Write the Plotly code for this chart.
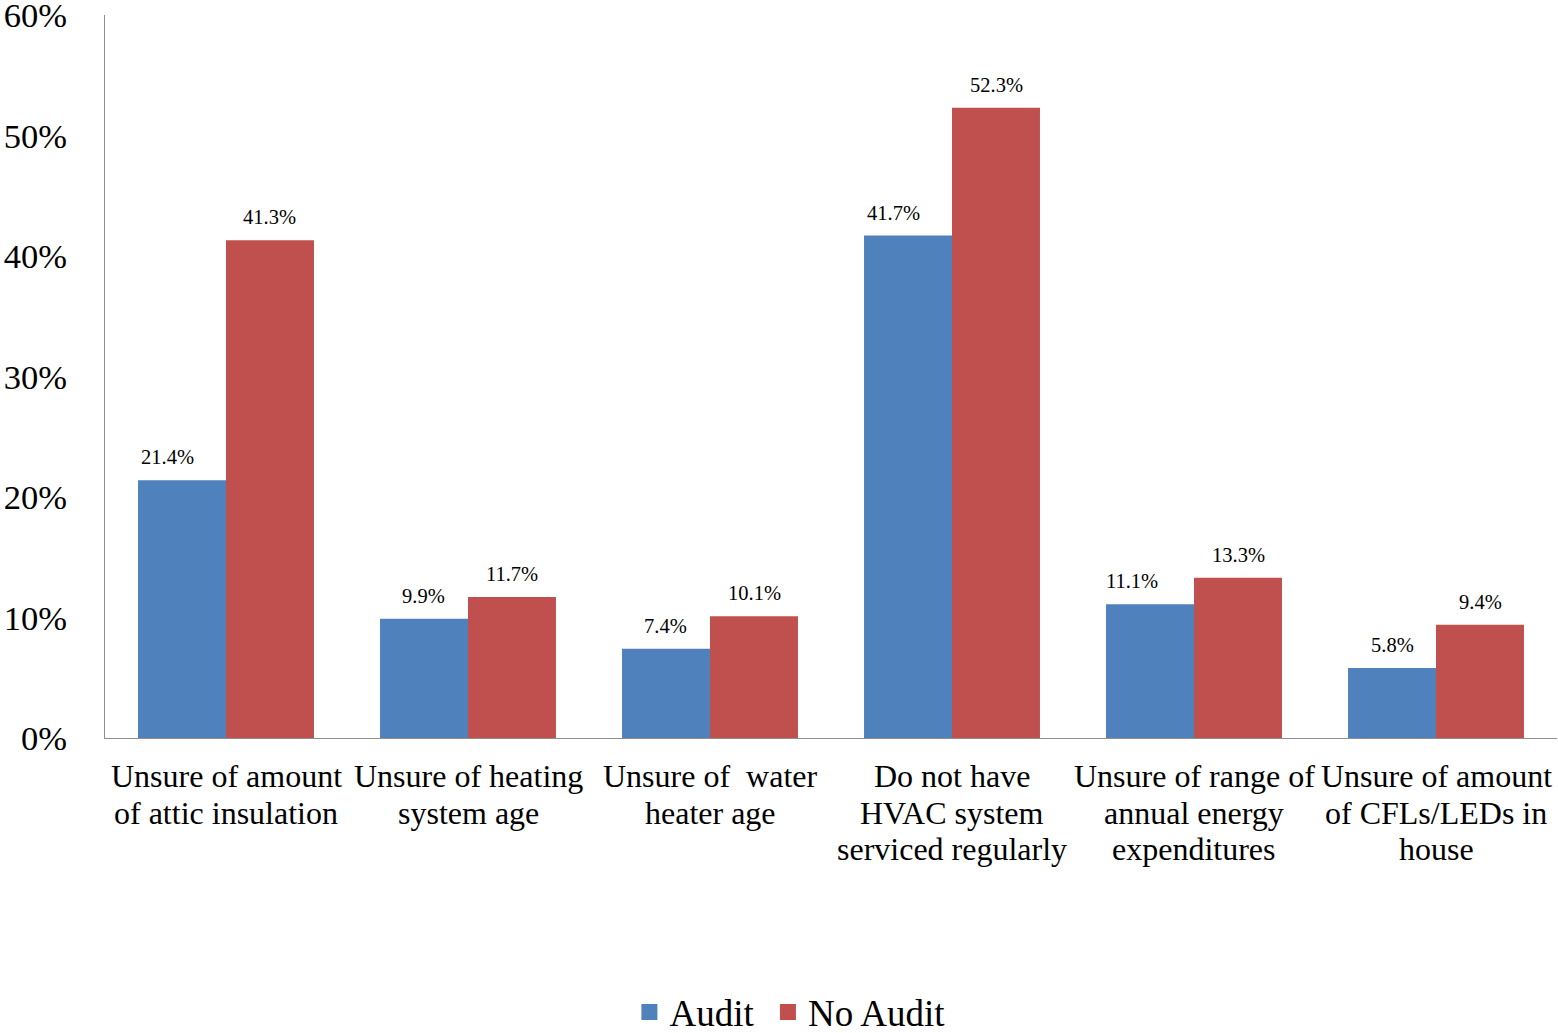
import plotly.graph_objects as go

# Survey responses: share of households unsure about home energy items
categories = [
    "Unsure of amount<br>of attic insulation",
    "Unsure of heating<br>system age",
    "Unsure of\u00a0 water<br>heater age",
    "Do not have<br>HVAC system<br>serviced regularly",
    "Unsure of range of<br>annual energy<br>expenditures",
    "Unsure of amount<br>of CFLs/LEDs in<br>house",
]
audit = [0.214, 0.099, 0.074, 0.417, 0.111, 0.058]
no_audit = [0.413, 0.117, 0.101, 0.523, 0.133, 0.094]
y_ticks = [0.0, 0.1, 0.2, 0.3, 0.4, 0.5, 0.6]

BLUE = "#4F81BD"
RED = "#C0504D"
AXIS = "#8E8E8E"
FONT = "Liberation Serif, Times New Roman, serif"

# horizontal nudges for a few value labels (pixels)
audit_label_nudge = [-15, -1, -1, -15, -18, 0]
no_audit_label_nudge = [-1, 0, 0, 0, 0, 0]
half_bar = 44

fig = go.Figure()
fig.add_trace(go.Bar(x=categories, y=audit, name="Audit", marker_color=BLUE,
                     marker_line_width=0, showlegend=False))
fig.add_trace(go.Bar(x=categories, y=no_audit, name="No Audit", marker_color=RED,
                     marker_line_width=0, showlegend=False))

# legend entries with larger square swatches
for name, color in [("Audit\u00a0", BLUE), ("No Audit", RED)]:
    fig.add_trace(go.Scatter(x=[None], y=[None], mode="markers", name=name,
                             marker=dict(symbol="square", size=19, color=color)))

annotations = []
# value labels above each bar
for cat, v, dx in zip(categories, audit, audit_label_nudge):
    annotations.append(dict(x=cat, y=v, xref="x", yref="y", text=f"{v*100:.1f}%",
                            showarrow=False, xshift=-half_bar + dx, yshift=23,
                            yanchor="middle", font=dict(size=20.5, color="black", family=FONT)))
for cat, v, dx in zip(categories, no_audit, no_audit_label_nudge):
    annotations.append(dict(x=cat, y=v, xref="x", yref="y", text=f"{v*100:.1f}%",
                            showarrow=False, xshift=half_bar + dx, yshift=23,
                            yanchor="middle", font=dict(size=20.5, color="black", family=FONT)))

# multi-line category labels under the axis
LINE_STEP = 36.5
for cat in categories:
    for i, line in enumerate(cat.split("<br>")):
        annotations.append(dict(x=cat, y=0, xref="x", yref="y", text=line,
                                showarrow=False, yanchor="middle",
                                yshift=-(38 + i * LINE_STEP),
                                font=dict(size=32, color="black", family=FONT)))

fig.update_layout(
    width=1558, height=1033,
    margin=dict(l=105, r=1, t=15, b=295, autoexpand=False),
    paper_bgcolor="white", plot_bgcolor="white",
    barmode="group", bargap=0.273, bargroupgap=0,
    font=dict(family=FONT, color="black"),
    annotations=annotations,
    legend=dict(orientation="h", xref="container", yref="container",
                x=0.507, y=0.02, xanchor="center", yanchor="middle",
                font=dict(size=37, color="black", family=FONT),
                itemwidth=30, tracegroupgap=0),
    xaxis=dict(showticklabels=False, ticks="", showline=True, linecolor=AXIS,
               linewidth=1.3, showgrid=False, zeroline=False, automargin=False),
    yaxis=dict(range=[0, 0.6], tickvals=y_ticks, tickformat=".0%", ticks="",
               showline=True, linecolor=AXIS, linewidth=1.3, showgrid=False,
               zeroline=False, ticklabelstandoff=30, ticklabeloverflow="allow",
               automargin=False,
               tickfont=dict(size=34.5, color="black", family=FONT)),
)

fig.write_html("out.html")
